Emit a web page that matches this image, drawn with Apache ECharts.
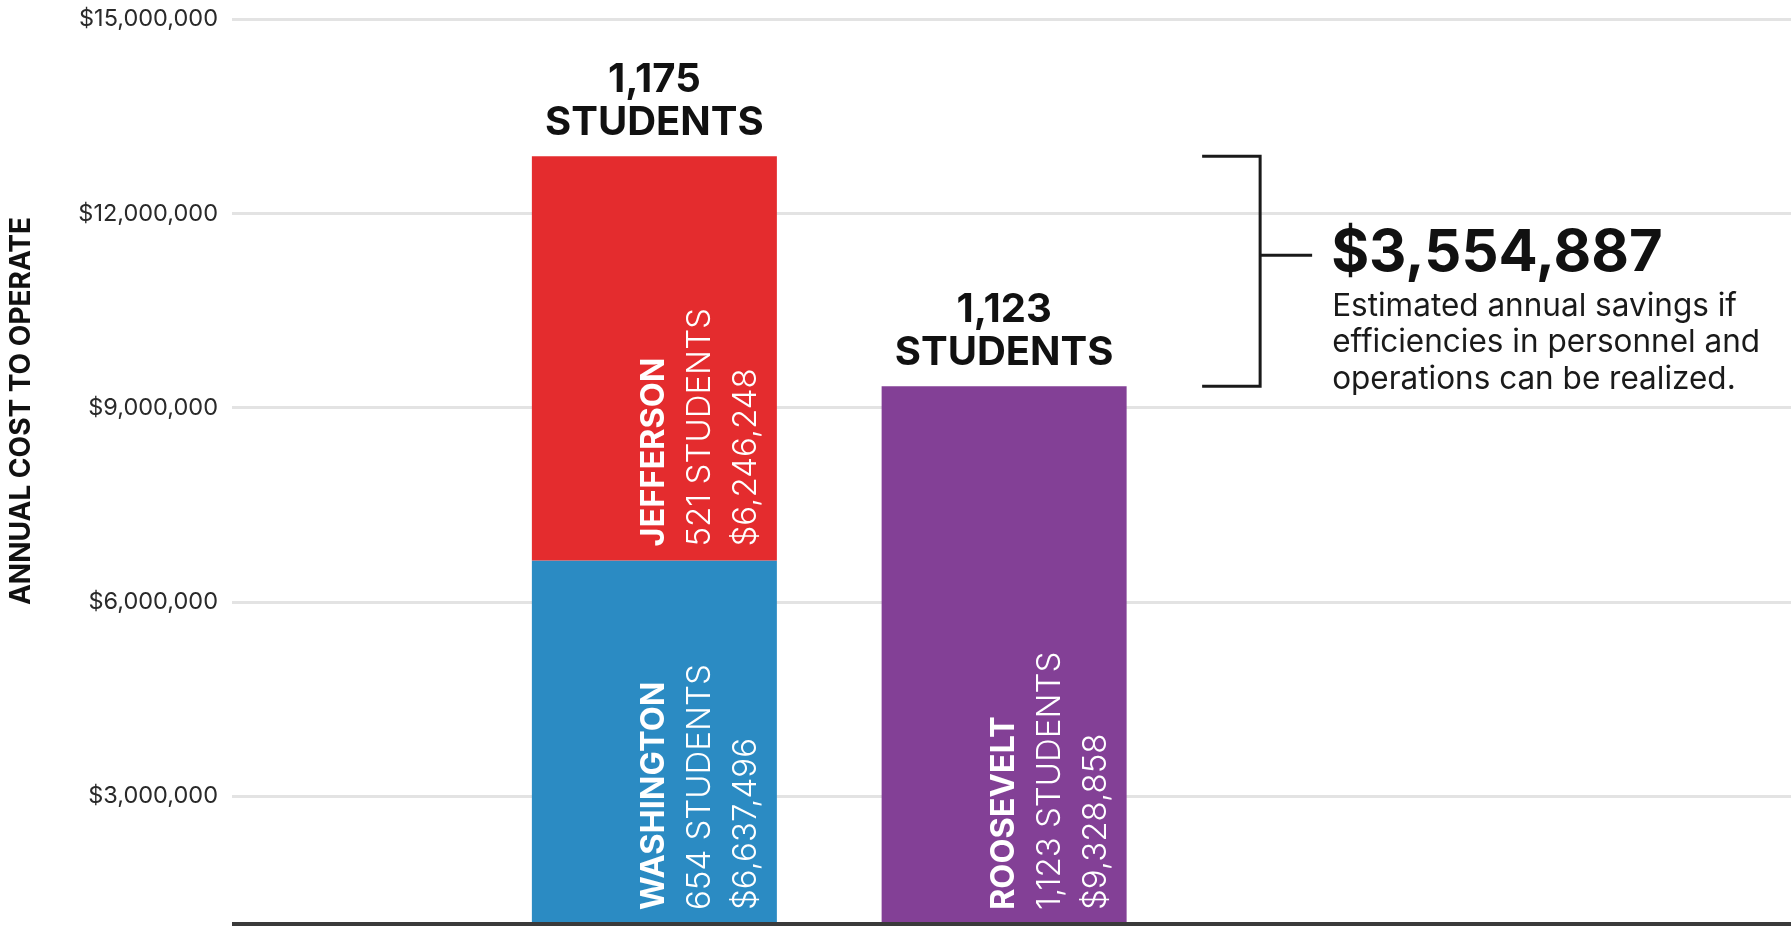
<!DOCTYPE html>
<html>
<head>
<meta charset="utf-8">
<script src="https://cdn.jsdelivr.net/npm/echarts@6/dist/echarts.min.js"></script>
<style>
  html, body { margin: 0; padding: 0; background: #ffffff; }
  #chart { width: 1791px; height: 926px; }
</style>
</head>
<body>
<div id="chart"></div>
<script>
// ---- data ----
const categories = ['Current schools', 'Consolidated school'];
const schools = ['WASHINGTON', 'JEFFERSON', 'ROOSEVELT'];
const schoolCategory = [0, 0, 1];
const schoolCosts = [6637496, 6246248, 9328858];
const schoolStudents = [654, 521, 1123];
const schoolColors = ['#2B8BC3', '#E42C2E', '#834096'];
const yMin = 0;
const yMax = 15000000;
const yInterval = 3000000;
const savings = 3554887;
const savingsNote = ['Estimated annual savings if', 'efficiencies in personnel and', 'operations can be realized.'];
const yAxisTitle = 'ANNUAL COST TO OPERATE';

// ---- helpers ----
const fmt = v => v.toLocaleString('en-US');
const FONT = 'Inter, Lato, sans-serif';

const catCost = categories.map((c, ci) => schoolCosts.reduce((s, v, i) => s + (schoolCategory[i] === ci ? v : 0), 0));
const catStudents = categories.map((c, ci) => schoolStudents.reduce((s, v, i) => s + (schoolCategory[i] === ci ? v : 0), 0));

const GRID_TOP = 19.4;
const GRID_HEIGHT = 970.6;

const barSeries = schools.map((name, i) => {
  const data = categories.map((c, ci) => ci === schoolCategory[i] ? {
    value: schoolCosts[i],
    label: { distance: (i === 1 ? 14 : 80) }
  } : '-');
  return {
    type: 'bar',
    name: name,
    xAxisIndex: 1,
    yAxisIndex: 1,
    stack: 'total',
    barWidth: 245,
    itemStyle: { color: schoolColors[i] },
    label: {
      show: true,
      position: 'insideBottom',
      rotate: 90,
      align: 'left',
      verticalAlign: 'middle',
      offset: [0, 46],
      formatter: () => '{n|' + name + '}\n{s|' + fmt(schoolStudents[i]) + ' STUDENTS}\n{s|$' + fmt(schoolCosts[i]) + '}',
      rich: {
        n: { fontFamily: FONT, fontWeight: 'bold', fontSize: 32.5, lineHeight: 46, color: '#ffffff' },
        s: { fontFamily: FONT, fontWeight: 300, fontSize: 33, lineHeight: 46, color: '#ffffff' }
      }
    },
    data: data,
    silent: true
  };
});

const annotation = {
  type: 'custom',
  xAxisIndex: 1,
  yAxisIndex: 1,
  silent: true,
  z: 10,
  data: [0],
  renderItem: function (params, api) {
    const children = [];
    const tops = categories.map((c, ci) => api.coord([ci, catCost[ci]]));
    categories.forEach((c, ci) => {
      children.push({
        type: 'text',
        x: tops[ci][0],
        y: tops[ci][1] - 12,
        style: {
          text: fmt(catStudents[ci]) + '\nSTUDENTS',
          fill: '#111111',
          font: 'bold 40px ' + FONT,
          lineHeight: 43,
          align: 'center',
          verticalAlign: 'bottom'
        }
      });
    });
    const topY = tops[0][1];
    const botY = tops[1][1];
    const cx = tops[1][0];
    const xLeft = cx + 198;
    const xV = cx + 256;
    const tickY = topY + 0.43 * (botY - topY);
    children.push({
      type: 'polyline',
      shape: { points: [[xLeft, topY], [xV, topY], [xV, botY], [xLeft, botY]] },
      style: { stroke: '#1a1a1a', lineWidth: 3, fill: null }
    });
    children.push({
      type: 'line',
      shape: { x1: xV, y1: tickY, x2: cx + 308, y2: tickY },
      style: { stroke: '#1a1a1a', lineWidth: 3 }
    });
    children.push({
      type: 'text',
      x: cx + 327,
      y: tickY - 2,
      style: {
        text: '$' + fmt(savings),
        fill: '#111111',
        font: 'bold 58px ' + FONT,
        align: 'left',
        verticalAlign: 'middle'
      }
    });
    children.push({
      type: 'text',
      x: cx + 328,
      y: tickY + 33,
      style: {
        text: savingsNote.join('\n'),
        fill: '#1a1a1a',
        font: '31.5px ' + FONT,
        lineHeight: 36.5,
        align: 'left',
        verticalAlign: 'top'
      }
    });
    return { type: 'group', children: children };
  }
};

const chart = echarts.init(document.getElementById('chart'), null, { renderer: 'canvas' });
chart.setOption({
  animation: false,
  backgroundColor: '#ffffff',
  grid: [
    { left: 232, right: 0, top: GRID_TOP, height: GRID_HEIGHT, containLabel: false, outerBoundsMode: 'none' },
    { left: 479.5, right: 612, top: GRID_TOP, height: GRID_HEIGHT, containLabel: false, outerBoundsMode: 'none' }
  ],
  xAxis: [
    { type: 'category', gridIndex: 0, data: categories, show: false },
    { type: 'category', gridIndex: 1, data: categories, show: false }
  ],
  yAxis: [
    {
      type: 'value', gridIndex: 0, min: yMin, max: yMax, interval: yInterval,
      axisLine: { show: false }, axisTick: { show: false },
      axisLabel: {
        margin: 14, color: '#2a2a2a', fontFamily: FONT, fontSize: 23.5,
        formatter: v => v === 0 ? '' : '$' + fmt(v)
      },
      splitLine: { show: true, lineStyle: { color: '#e3e3e3', width: 3 } }
    },
    {
      type: 'value', gridIndex: 1, min: yMin, max: yMax, interval: yInterval,
      show: false, splitLine: { show: false }
    }
  ],
  graphic: [
    {
      type: 'text',
      x: 22, y: 411,
      rotation: Math.PI / 2,
      style: {
        text: yAxisTitle,
        fill: '#111111',
        font: 'bold 28px ' + FONT,
        align: 'center',
        verticalAlign: 'middle'
      }
    },
    {
      type: 'rect',
      shape: { x: 232, y: 922, width: 1791 - 232, height: 4 },
      style: { fill: '#3a3a3a' },
      z: 100
    }
  ],
  series: barSeries.concat([annotation])
});
</script>
</body>
</html>
